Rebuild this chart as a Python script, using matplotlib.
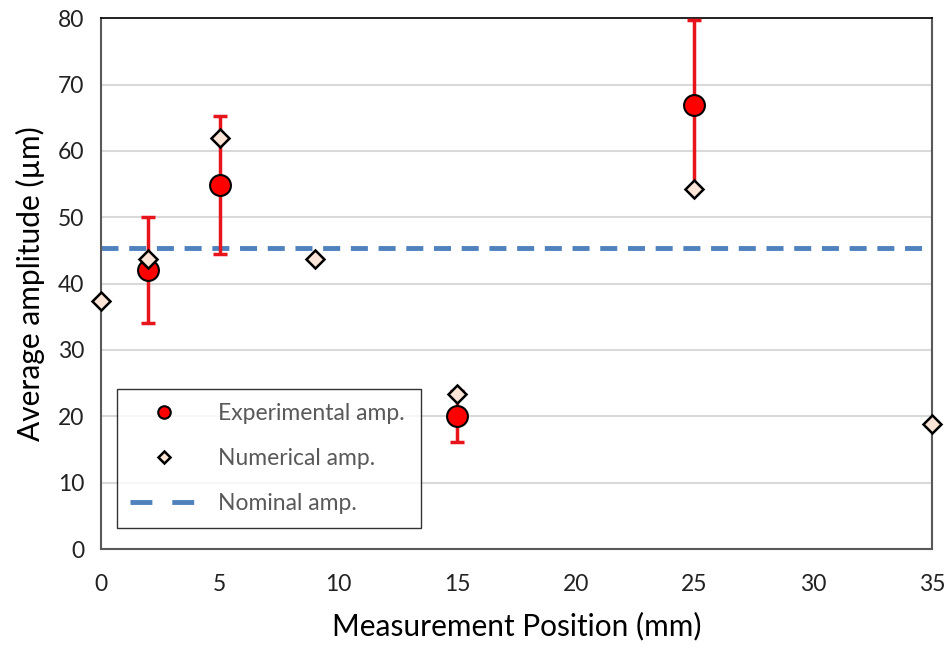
import matplotlib.pyplot as plt
from matplotlib.lines import Line2D

exp_pos = [2, 5, 15, 25]
exp_amp = [42.0, 54.9, 20.0, 66.9]
exp_err = [8.0, 10.4, 3.8, 12.8]

num_pos = [0, 2, 5, 9, 15, 25, 35]
num_amp = [37.4, 43.7, 62.0, 43.7, 23.4, 54.3, 18.8]

nominal_amp = 45.3
nominal_range = [0, 35]

plt.rcParams['font.family'] = ['Lato', 'DejaVu Sans']

fig = plt.figure(figsize=(9.48, 6.49), dpi=100)
ax = fig.add_axes([0.1065, 0.154, 0.8765, 0.818])

ax.plot(nominal_range, [nominal_amp, nominal_amp], color='#4f81bd', linestyle=(0, (3.5, 2.2)),
        linewidth=3.5, zorder=2)
ax.errorbar(exp_pos, exp_amp, yerr=exp_err, fmt='none', ecolor='#e8141c',
            elinewidth=2.5, capsize=5, capthick=2.5, zorder=3, clip_on=False)
exp_line, = ax.plot(exp_pos, exp_amp, 'o', color='#ff0000', markeredgecolor='black',
                    markeredgewidth=1.5, markersize=15, linestyle='none', zorder=4)
num_line, = ax.plot(num_pos, num_amp, 'D', color='#fce4d6', markeredgecolor='black',
                    markeredgewidth=1.8, markersize=9.5, linestyle='none', zorder=5, clip_on=False)

ax.set_xlim(0, 35)
ax.set_ylim(0, 80)
ax.set_xticks([0, 5, 10, 15, 20, 25, 30, 35])
ax.set_yticks(range(0, 81, 10))
ax.tick_params(axis='both', labelsize=16.5, length=0, colors='#222222')
ax.tick_params(axis='x', pad=18)
ax.tick_params(axis='y', pad=12)
ax.yaxis.grid(True, color='#d9d9d9', linewidth=1.5)
ax.set_axisbelow(True)
for side in ['left', 'bottom', 'right']:
    ax.spines[side].set_color('#595959')
    ax.spines[side].set_linewidth(1.5)
ax.spines['top'].set_color('black')
ax.spines['top'].set_linewidth(1.2)

ax.set_xlabel('Measurement Position (mm)', fontsize=21.5, labelpad=12)
ax.set_ylabel('Average amplitude (\u00b5m)', fontsize=21.5, labelpad=9)

# legend proxies
exp_h = Line2D([], [], marker='o', color='#ff0000', markeredgecolor='black',
               markeredgewidth=1.5, markersize=9, linestyle='none')
num_h = Line2D([], [], marker='D', color='#fce4d6', markeredgecolor='black',
               markeredgewidth=1.8, markersize=6, linestyle='none')
nom_h = Line2D([], [], color='#4f81bd', linewidth=3.5, linestyle=(0, (4.5, 4.1)))
leg = ax.legend([exp_h, num_h, nom_h], ['Experimental amp.', 'Numerical amp.', 'Nominal amp.'],
                loc='lower left', bbox_to_anchor=(0.019, 0.0395, 0.366, 0.3), mode='expand',
                fontsize=16.5, frameon=True, fancybox=False, edgecolor='black',
                borderpad=0.6, labelspacing=1.05, handlelength=2.9, handletextpad=0.9,
                borderaxespad=0)
leg.get_frame().set_linewidth(1.0)
for t in leg.get_texts():
    t.set_color('#595959')

fig.savefig('out.png', dpi=100)
